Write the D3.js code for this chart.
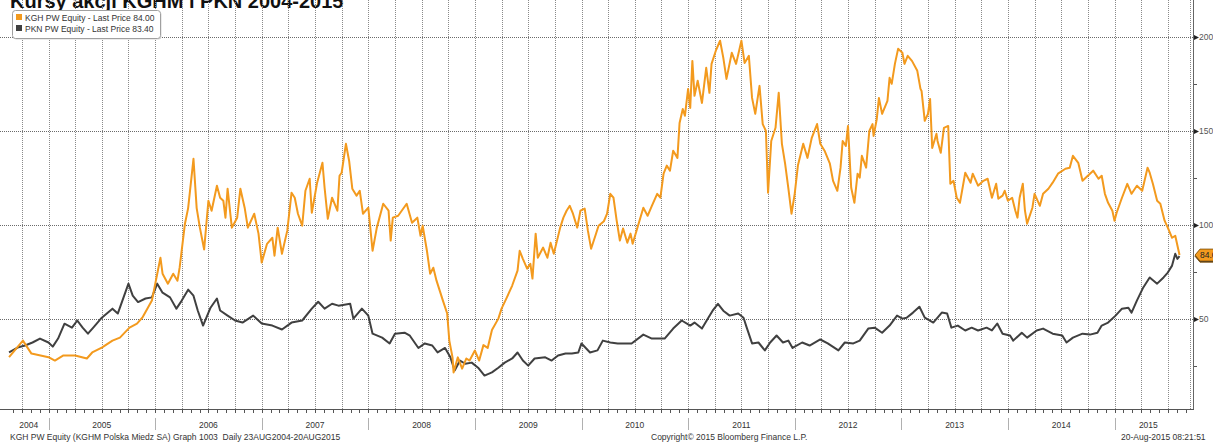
<!DOCTYPE html>
<html>
<head>
<meta charset="utf-8">
<script src="https://cdn.jsdelivr.net/npm/d3@7"></script>
<style>
  body { margin: 0; background: #fff; }
  svg { display: block; font-family: "Liberation Sans", Arial, sans-serif; }
</style>
</head>
<body>
<div id="chart"></div>
<script>
d3 = window.d3;

// ---- data (decimal years, price PLN) ----
var kghT = [2004.63,2004.76,2004.84,2005.00,2005.06,2005.14,2005.25,2005.36,2005.41,2005.50,2005.60,2005.67,2005.76,2005.83,2005.88,2005.97,
  2006.05,2006.07,2006.12,2006.17,2006.21,2006.23,2006.28,2006.31,2006.36,2006.39,2006.42,2006.46,2006.50,2006.53,2006.58,2006.61,2006.64,2006.66,2006.68,2006.72,2006.77,2006.80,2006.84,2006.87,2006.93,2006.97,
  2007.00,2007.05,2007.10,2007.12,2007.15,2007.19,2007.24,2007.28,2007.31,2007.34,2007.38,2007.41,2007.45,2007.47,2007.52,2007.57,2007.59,2007.62,2007.66,2007.71,2007.73,2007.75,2007.79,2007.82,2007.85,2007.89,2007.92,2007.95,
  2008.00,2008.04,2008.08,2008.14,2008.19,2008.21,2008.23,2008.28,2008.36,2008.41,2008.46,2008.49,2008.51,2008.55,2008.58,2008.61,2008.64,2008.67,2008.70,2008.74,2008.76,2008.79,2008.80,2008.84,2008.88,2008.92,2008.95,
  2009.00,2009.04,2009.08,2009.12,2009.16,2009.22,2009.25,2009.30,2009.35,2009.40,2009.42,2009.45,2009.49,2009.52,2009.54,2009.57,2009.59,2009.64,2009.68,2009.71,2009.74,2009.80,2009.83,2009.86,2009.89,2009.92,2009.96,2009.99,
  2010.03,2010.06,2010.09,2010.13,2010.16,2010.21,2010.24,2010.27,2010.30,2010.33,2010.36,2010.39,2010.43,2010.46,2010.48,2010.53,2010.58,2010.62,2010.66,2010.71,2010.74,2010.77,2010.80,2010.83,2010.86,2010.90,2010.92,2010.95,2010.97,
  2011.00,2011.02,2011.04,2011.06,2011.09,2011.13,2011.17,2011.20,2011.22,2011.26,2011.30,2011.33,2011.36,2011.41,2011.45,2011.50,2011.53,2011.57,2011.60,2011.63,2011.67,2011.70,2011.73,2011.75,2011.78,2011.82,2011.85,2011.88,2011.91,2011.94,2011.97,
  2012.00,2012.03,2012.08,2012.12,2012.16,2012.21,2012.24,2012.28,2012.33,2012.36,2012.40,2012.43,2012.45,2012.48,2012.50,2012.53,2012.56,2012.59,2012.61,2012.63,2012.67,2012.70,2012.73,2012.74,2012.77,2012.79,2012.82,2012.87,2012.89,2012.91,2012.94,2012.97,
  2013.01,2013.03,2013.06,2013.10,2013.15,2013.18,2013.19,2013.22,2013.25,2013.27,2013.29,2013.33,2013.34,2013.37,2013.40,2013.44,2013.46,2013.49,2013.52,2013.55,2013.60,2013.65,2013.67,2013.72,2013.77,2013.81,2013.85,2013.89,2013.91,2013.95,2013.97,
  2014.00,2014.04,2014.07,2014.09,2014.11,2014.14,2014.16,2014.18,2014.23,2014.25,2014.30,2014.33,2014.38,2014.42,2014.47,2014.54,2014.58,2014.61,2014.66,2014.70,2014.75,2014.80,2014.85,2014.88,2014.91,2014.94,2014.98,
  2015.00,2015.02,2015.07,2015.12,2015.16,2015.21,2015.26,2015.31,2015.33,2015.36,2015.40,2015.43,2015.47,2015.50,2015.54,2015.57,2015.61];
var kghV = [29.7,38.5,31.6,29.7,27.9,30.6,30.6,29.0,32.2,34.8,38.5,40.1,45.4,47.5,50.7,59.8,
  82.6,74.1,68.8,74.1,70.4,77.3,100.7,109.0,135.2,109.0,98.6,87.0,112.9,107.6,120.9,114.5,112.9,103.9,119.3,98.6,103.9,119.3,109.2,98.6,106.0,95.4,
  80.0,90.0,93.2,83.7,98.6,84.7,97.0,117.2,114.5,106.0,99.6,118.2,124.6,106.5,122.5,133.1,119.8,103.3,114.5,107.6,126.2,127.8,143.2,134.2,119.3,115.6,118.2,106.0,
  109.2,86.3,98.6,111.3,107.6,91.7,103.9,104.9,111.3,101.2,103.9,94.3,99.6,86.3,74.1,77.3,70.4,65.1,59.8,52.9,38.5,29.6,21.6,29.6,23.6,29.0,27.9,
  33.2,27.9,36.1,34.6,44.1,50.2,55.5,61.5,67.8,75.7,86.3,82.0,76.8,79.4,71.5,95.4,82.6,88.0,82.6,90.6,84.7,98.6,103.9,107.6,110.2,106.0,98.6,107.6,
  108.7,97.0,87.4,94.3,99.6,102.0,106.0,116.6,114.5,102.3,91.7,98.1,90.6,95.4,90.0,99.6,109.2,104.9,110.2,116.6,114.5,127.3,131.6,128.9,139.5,135.7,154.3,161.7,158.1,
  172.4,162.3,187.3,168.7,176.7,164.9,183.6,170.3,185.7,192.7,198.0,189.0,177.7,191.6,185.7,198.0,186.2,190.0,167.6,159.1,174.0,153.7,150.0,117.2,144.7,151.7,170.3,143.2,132.6,119.8,106.0,
  116.6,131.6,143.2,135.7,146.4,153.7,143.2,139.5,132.6,123.5,118.2,130.5,144.7,142.1,152.7,119.8,111.8,127.3,125.2,136.8,130.5,150.0,153.7,147.4,156.4,167.6,159.1,166.0,178.3,175.1,185.7,193.7,
  191.6,185.7,190.0,187.3,182.0,172.4,171.3,155.4,159.1,167.0,141.0,148.5,144.7,138.4,151.7,152.7,121.9,123.5,114.5,111.8,127.8,122.5,127.3,120.9,123.5,124.6,114.5,121.9,114.0,115.6,118.2,
  112.9,114.5,107.6,103.9,114.5,121.9,107.6,100.7,109.2,116.6,110.2,116.6,119.3,122.5,127.3,129.9,130.5,136.8,133.1,123.5,126.2,128.9,124.6,126.2,116.6,111.8,107.6,
  102.3,106.5,114.5,121.9,116.6,120.9,118.2,130.5,127.8,121.9,112.9,111.3,102.3,98.6,93.2,94.3,84.0];

var pknT = [2004.63,2004.71,2004.78,2004.85,2004.92,2005.00,2005.04,2005.09,2005.15,2005.22,2005.27,2005.32,2005.37,2005.42,2005.50,2005.60,2005.65,2005.75,2005.79,2005.84,2005.91,2005.97,
  2006.02,2006.07,2006.14,2006.20,2006.25,2006.31,2006.36,2006.40,2006.45,2006.52,2006.58,2006.61,2006.68,2006.75,2006.82,2006.92,
  2007.00,2007.10,2007.19,2007.28,2007.38,2007.47,2007.53,2007.59,2007.66,2007.72,2007.83,2007.86,2007.94,
  2008.00,2008.04,2008.13,2008.20,2008.25,2008.34,2008.39,2008.47,2008.53,2008.60,2008.65,2008.72,2008.77,2008.81,2008.86,2008.91,2008.97,
  2009.03,2009.09,2009.16,2009.22,2009.28,2009.35,2009.40,2009.45,2009.50,2009.56,2009.66,2009.72,2009.78,2009.85,2009.91,2009.97,
  2010.00,2010.08,2010.15,2010.20,2010.27,2010.34,2010.47,2010.58,2010.66,2010.78,2010.86,2010.94,
  2011.02,2011.06,2011.13,2011.19,2011.23,2011.28,2011.33,2011.39,2011.47,2011.52,2011.55,2011.60,2011.66,2011.72,2011.77,2011.83,2011.89,2011.94,2011.98,
  2012.07,2012.14,2012.24,2012.31,2012.41,2012.47,2012.55,2012.61,2012.69,2012.75,2012.82,2012.89,2012.96,
  2013.01,2013.05,2013.11,2013.17,2013.22,2013.30,2013.38,2013.43,2013.47,2013.53,2013.60,2013.66,2013.72,2013.80,2013.85,2013.90,2013.95,
  2014.02,2014.05,2014.13,2014.18,2014.27,2014.33,2014.42,2014.51,2014.55,2014.61,2014.70,2014.77,2014.84,2014.88,2014.94,
  2015.01,2015.07,2015.13,2015.16,2015.21,2015.27,2015.33,2015.40,2015.46,2015.50,2015.54,2015.57,2015.59,2015.61];
var pknV = [32.2,34.8,35.9,37.5,39.6,37.5,35.3,39.6,47.5,45.4,49.2,45.4,42.2,45.4,50.7,55.5,52.9,68.8,62.4,59.0,60.9,61.5,
  68.8,64.0,61.5,55.5,59.8,65.6,62.4,54.5,46.5,56.0,60.9,54.5,51.8,49.2,48.1,51.8,
  47.6,46.5,44.4,48.1,49.2,55.5,59.2,55.5,58.1,57.1,58.1,50.2,55.5,
  51.8,42.2,40.1,37.0,42.2,42.7,41.1,34.6,37.0,35.9,32.2,34.6,29.6,22.6,27.9,26.2,26.8,
  24.1,19.9,21.6,24.1,26.8,29.0,32.2,27.9,25.2,29.0,29.6,27.9,30.6,31.6,31.6,32.2,
  37.0,32.2,33.3,38.5,37.5,37.0,37.0,41.7,39.6,39.6,44.9,49.2,
  46.5,48.1,44.9,50.7,54.4,58.1,54.4,51.8,52.9,50.7,45.4,37.0,37.5,33.3,37.5,41.2,37.5,38.5,34.6,
  37.5,35.9,39.1,37.0,33.3,37.5,37.0,38.5,44.9,45.4,42.7,46.5,51.8,
  50.2,50.7,53.4,56.5,50.7,48.1,53.4,52.9,45.4,46.5,43.9,45.4,43.9,45.4,43.9,47.6,42.2,
  41.2,38.5,42.7,40.1,43.9,44.9,42.2,41.2,37.5,40.1,42.2,41.7,42.7,46.5,48.1,
  51.8,55.5,56.0,53.4,59.8,66.8,72.1,68.8,72.1,74.7,78.4,84.7,82.0,83.4];

var years = [2004, 2005, 2006, 2007, 2008, 2009, 2010, 2011, 2012, 2013, 2014, 2015];
var yTicks = [50, 100, 150, 200];
var yMinor = [25, 75, 125, 175];
var seriesNames = ["KGH PW Equity - Last Price 84.00", "PKN PW Equity - Last Price 83.40"];
var lastPrices = [84.00, 83.40];

var kghColor = "#f39a1e", pknColor = "#404040";

var width = 1213, height = 442;
var plotTop = 0, plotBottom = 409, plotRight = 1190, axisX = 1193;
var tStart = 2004.63, tEnd = 2015.635;

var x = d3.scaleLinear().domain([2005, 2015]).range([48.5, 1114.5]);
var y = d3.scaleLinear().domain([50, 200]).range([319, 37]);

var svg = d3.select("#chart").append("svg")
  .attr("width", width)
  .attr("height", height);

svg.append("rect").attr("width", width).attr("height", height).attr("fill", "#fff");

// title (cut off by the top edge, like the source)
svg.append("text")
  .attr("x", 10).attr("y", 8)
  .attr("font-size", 20).attr("font-weight", "bold").attr("fill", "#111")
  .text("Kursy akcji KGHM i PKN 2004-2015");

// vertical gridlines every quarter
var quarters = d3.range(2004.75, 2015.6, 0.25);
svg.append("g").selectAll("line").data(quarters).join("line")
  .attr("x1", d => Math.round(x(d)) + 0.5).attr("x2", d => Math.round(x(d)) + 0.5)
  .attr("y1", plotTop).attr("y2", plotBottom)
  .attr("stroke", "#8a8a8a").attr("stroke-dasharray", "1,1");
svg.append("line")
  .attr("x1", plotRight + 0.5).attr("x2", plotRight + 0.5)
  .attr("y1", plotTop).attr("y2", plotBottom)
  .attr("stroke", "#8a8a8a").attr("stroke-dasharray", "1,1");

// horizontal gridlines
svg.append("g").selectAll("line").data(yTicks).join("line")
  .attr("x1", 0).attr("x2", axisX)
  .attr("y1", d => Math.round(y(d)) + 0.5).attr("y2", d => Math.round(y(d)) + 0.5)
  .attr("stroke", "#6a6a6a").attr("stroke-dasharray", "1,1");

// lines
var line = d3.line()
  .x(d => x(d[0]))
  .y(d => y(d[1]));

svg.append("path")
  .datum(d3.zip(pknT, pknV))
  .attr("fill", "none").attr("stroke", pknColor)
  .attr("stroke-width", 2).attr("stroke-linejoin", "round")
  .attr("d", line);

svg.append("path")
  .datum(d3.zip(kghT, kghV))
  .attr("fill", "none").attr("stroke", kghColor)
  .attr("stroke-width", 2).attr("stroke-linejoin", "round")
  .attr("d", line);

// legend
var legend = svg.append("g");
legend.append("rect")
  .attr("x", 13.5).attr("y", 11.5).attr("width", 148).attr("height", 28).attr("rx", 3)
  .attr("fill", "#d8d8d8");
legend.append("rect")
  .attr("x", 12.5).attr("y", 10.5).attr("width", 148).attr("height", 28).attr("rx", 3)
  .attr("fill", "#fff").attr("stroke", "#a0a0a0");
var legendColors = [kghColor, pknColor];
legend.selectAll("g.item").data(seriesNames).join("g")
  .attr("class", "item")
  .attr("transform", (d, i) => "translate(0," + (i * 11) + ")")
  .each(function(d, i) {
    var g = d3.select(this);
    g.append("rect").attr("x", 16).attr("y", 14).attr("width", 6).attr("height", 6)
      .attr("fill", legendColors[i]);
    g.append("text").attr("x", 25).attr("y", 20.5)
      .attr("font-size", 8.5).attr("fill", "#333").text(d);
  });

// right axis
svg.append("line")
  .attr("x1", axisX + 0.5).attr("x2", axisX + 0.5)
  .attr("y1", 0).attr("y2", plotBottom + 1)
  .attr("stroke", "#666");

var yAxis = svg.append("g")
  .attr("transform", "translate(" + (axisX + 1) + ",0)")
  .call(d3.axisRight(y).tickValues(yTicks).tickSize(0).tickPadding(5).tickFormat(d3.format("d")));
yAxis.select(".domain").remove();
yAxis.selectAll("text").attr("font-size", 8.5).attr("fill", "#555")
  .attr("font-family", "Liberation Sans, Arial, sans-serif");
yAxis.selectAll(".tick").append("path")
  .attr("d", "M0,-2.5L5,0L0,2.5Z").attr("fill", "#222");

svg.append("g").selectAll("line").data(yMinor).join("line")
  .attr("x1", axisX + 1).attr("x2", axisX + 4)
  .attr("y1", d => Math.round(y(d)) + 0.5).attr("y2", d => Math.round(y(d)) + 0.5)
  .attr("stroke", "#555");

// last price tags
var tagData = d3.zip(lastPrices, [pknColor, kghColor].reverse()).reverse();
svg.append("g").selectAll("g").data(tagData).join("g")
  .attr("transform", d => "translate(" + (axisX + 2) + "," + y(d[0]) + ")")
  .each(function(d) {
    var g = d3.select(this);
    g.append("path")
      .attr("d", "M0,0L5,-6L30,-6L30,6L5,6Z")
      .attr("fill", d[1]).attr("stroke", "#7a4a00").attr("stroke-width", 0.8);
    g.append("text").attr("x", 5).attr("y", 3)
      .attr("font-size", 8.5).attr("fill", d[1] === kghColor ? "#222" : "#fff")
      .text(d[0].toFixed(2));
  });

// bottom axis
svg.append("line")
  .attr("x1", 0).attr("x2", axisX + 1)
  .attr("y1", plotBottom + 0.5).attr("y2", plotBottom + 0.5)
  .attr("stroke", "#555");

var months = d3.range(2004 + 8 / 12, 2015 + 9 / 12, 1 / 12);
svg.append("g").selectAll("line").data(months).join("line")
  .attr("x1", d => Math.round(x(d)) + 0.5).attr("x2", d => Math.round(x(d)) + 0.5)
  .attr("y1", plotBottom).attr("y2", plotBottom + 4)
  .attr("stroke", "#555");

svg.append("g").selectAll("line").data(years.slice(1)).join("line")
  .attr("x1", d => Math.round(x(d)) + 0.5).attr("x2", d => Math.round(x(d)) + 0.5)
  .attr("y1", 418).attr("y2", 430)
  .attr("stroke", "#b0b0b0");

svg.append("g").selectAll("text").data(years).join("text")
  .attr("x", d => (x(Math.max(d, tStart)) + x(Math.min(d + 1, tEnd))) / 2)
  .attr("y", 428)
  .attr("text-anchor", "middle")
  .attr("font-size", 8.5).attr("fill", "#333")
  .text(d => d);

// footer
var footer = svg.append("g").attr("font-size", 8.5).attr("fill", "#333");
footer.append("text").attr("x", 10).attr("y", 440)
  .style("white-space", "pre")
  .text("KGH PW Equity (KGHM Polska Miedz SA) Graph 1003  Daily 23AUG2004-20AUG2015");
footer.append("text").attr("x", 651).attr("y", 440)
  .text("Copyright\u00a9 2015 Bloomberg Finance L.P.");
footer.append("text").attr("x", 1121).attr("y", 440)
  .text("20-Aug-2015 08:21:51");
</script>
</body>
</html>
